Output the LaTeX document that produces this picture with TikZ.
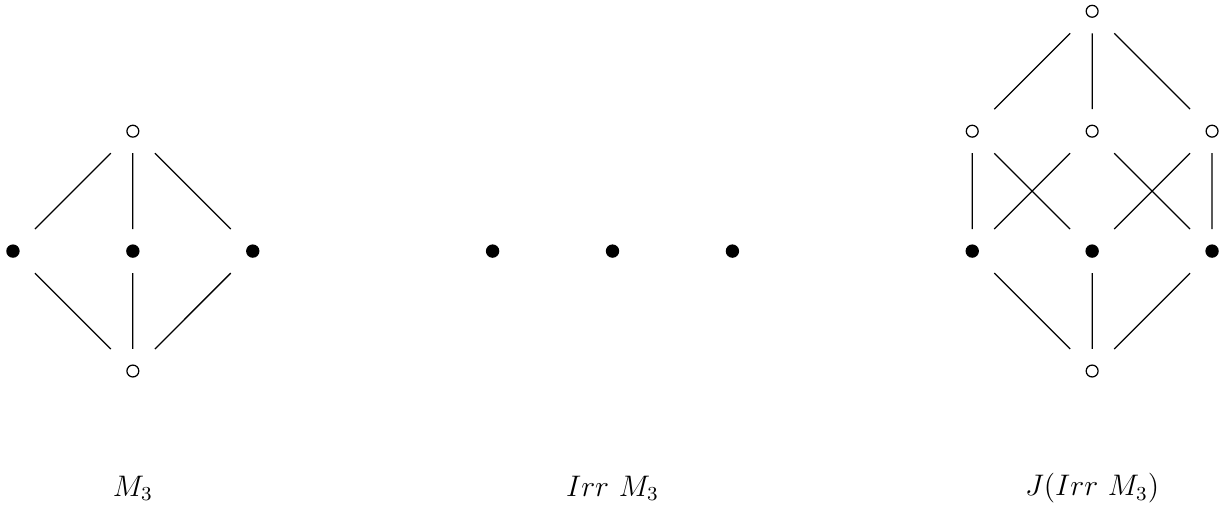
\documentclass[tikz,border=0pt]{standalone}
\usepackage{amssymb,amsfonts,amsmath}
\usepackage{tikz}

\begin{document}
\begin{tikzpicture}[
    x=48.4pt, y=48.4pt, line width=0.5pt,
    pt/.style={minimum size=17.8pt, inner sep=0pt, outer sep=0pt},
    bul/.style={pt, path picture={\fill (path picture bounding box.center) circle (2.7pt);}},
    opn/.style={pt, path picture={\draw[line width=0.5pt] (path picture bounding box.center) circle (2.4pt);}},
    lbl/.style={font=\large},
  ]
  \useasboundingbox (-0.108,-1.159) rectangle (10.083,3.094);

  % --- M_3 ---
  \node[opn] (mtop) at (1, 2) {};
  \node[bul] (ma) at (0, 1) {};
  \node[bul] (mb) at (1, 1) {};
  \node[bul] (mc) at (2, 1) {};
  \node[opn] (mbot) at (1, 0) {};
  \draw (mtop) -- (ma) (mtop) -- (mb) (mtop) -- (mc);
  \draw (mbot) -- (ma) (mbot) -- (mb) (mbot) -- (mc);
  \node[lbl] (mlbl) at (1, -0.98) {$M_3$};

  % --- Irr M_3 ---
  \node[bul] (ia) at (4, 1) {};
  \node[bul] (ib) at (5, 1) {};
  \node[bul] (ic) at (6, 1) {};
  \node[lbl] (ilbl) at (5, -0.98) {$Irr\ M_3$};

  % --- J(Irr M_3) ---
  \node[opn] (jtop) at (9, 3) {};
  \node[opn] (jab) at (8, 2) {};
  \node[opn] (jac) at (9, 2) {};
  \node[opn] (jbc) at (10, 2) {};
  \node[bul] (ja) at (8, 1) {};
  \node[bul] (jb) at (9, 1) {};
  \node[bul] (jc) at (10, 1) {};
  \node[opn] (jbot) at (9, 0) {};
  \draw (jtop) -- (jab) (jtop) -- (jac) (jtop) -- (jbc);
  \draw (jab) -- (ja) (jab) -- (jb);
  \draw (jac) -- (ja) (jac) -- (jc);
  \draw (jbc) -- (jb) (jbc) -- (jc);
  \draw (jbot) -- (ja) (jbot) -- (jb) (jbot) -- (jc);
  \node[lbl] (jlbl) at (9, -0.98) {$J(Irr\ M_3)$};

\end{tikzpicture}
\end{document}
